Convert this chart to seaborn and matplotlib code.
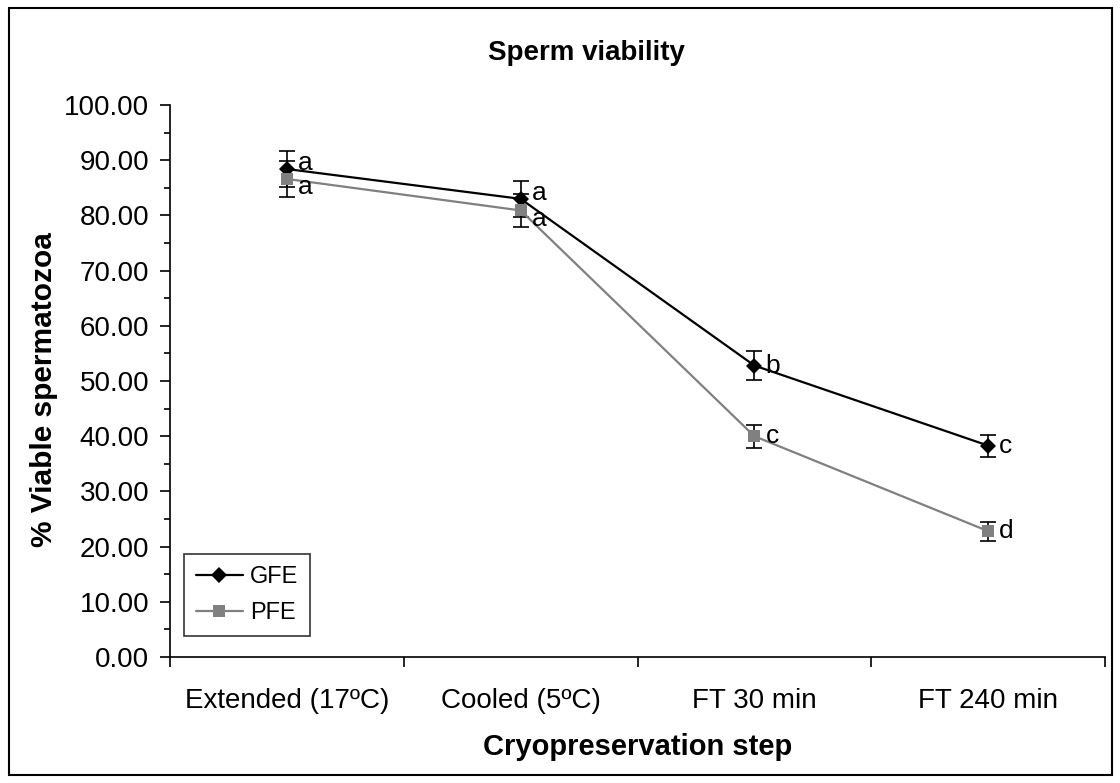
import matplotlib
matplotlib.use("Agg")
import matplotlib.pyplot as plt
import seaborn as sns
import pandas as pd
from matplotlib.patches import Rectangle
from matplotlib.ticker import MultipleLocator, FixedLocator, NullFormatter

# Data
steps = ["Extended (17ºC)", "Cooled (5ºC)", "FT 30 min", "FT 240 min"]
gfe_mean = [88.4, 83.0, 52.8, 38.3]
gfe_err = [3.2, 3.2, 2.6, 2.0]
pfe_mean = [86.6, 80.9, 40.0, 22.8]
pfe_err = [3.2, 3.0, 2.1, 1.7]
gfe_letters = ["a", "a", "b", "c"]
pfe_letters = ["a", "a", "c", "d"]

sns.set_theme(style="white")
plt.rcParams["font.family"] = ["Liberation Sans", "DejaVu Sans"]
plt.rcParams["text.color"] = "black"
plt.rcParams["axes.labelcolor"] = "black"
plt.rcParams["xtick.color"] = "black"
plt.rcParams["ytick.color"] = "black"

df = pd.DataFrame({
    "step": steps * 2,
    "value": gfe_mean + pfe_mean,
    "group": ["GFE"] * 4 + ["PFE"] * 4,
})
df["pos"] = list(range(4)) * 2

fig = plt.figure(figsize=(11.2, 7.83), dpi=100)
ax = fig.add_axes([0.1518, 0.1609, 0.8348, 0.705])

colors = {"GFE": "black", "PFE": "#808080"}
markers = {"GFE": "D", "PFE": "s"}

for grp, means, errs in [("GFE", gfe_mean, gfe_err), ("PFE", pfe_mean, pfe_err)]:
    sub = df[df.group == grp]
    sns.lineplot(data=sub, x="pos", y="value", ax=ax, color=colors[grp],
                 marker=markers[grp], markersize=8, markeredgewidth=0,
                 linewidth=1.6, label=grp, zorder=3)
    ax.errorbar(sub["pos"], means, yerr=errs, fmt="none", ecolor="black",
                elinewidth=1.2, capsize=6, capthick=1.2, zorder=2)

# significance letters
for i in range(4):
    dy_g = 4 if i < 2 else 0
    dy_p = -6 if i < 2 else 0
    ax.annotate(gfe_letters[i], (i, gfe_mean[i]), xytext=(8, dy_g),
                textcoords="offset points", ha="left", va="center", fontsize=19)
    ax.annotate(pfe_letters[i], (i, pfe_mean[i]), xytext=(8, dy_p),
                textcoords="offset points", ha="left", va="center", fontsize=19)

ax.set_xlim(-0.5, 3.5)
ax.set_ylim(0, 100)
ax.yaxis.set_major_locator(MultipleLocator(10))
ax.yaxis.set_minor_locator(MultipleLocator(5))
ax.set_yticklabels([f"{v:.2f}" for v in ax.get_yticks()])
ax.xaxis.set_major_locator(FixedLocator([-0.5, 0.5, 1.5, 2.5, 3.5]))
ax.xaxis.set_major_formatter(NullFormatter())
ax.xaxis.set_minor_locator(FixedLocator([0, 1, 2, 3]))
ax.set_xticklabels(steps, minor=True)

ax.tick_params(axis="y", which="major", direction="out", length=7, width=1.2,
               left=True, labelsize=20, pad=8)
ax.tick_params(axis="y", which="minor", direction="out", length=4, width=1.2, left=True)
ax.tick_params(axis="x", which="major", direction="out", length=7, width=1.2, bottom=True)
ax.tick_params(axis="x", which="minor", length=0, labelsize=20, pad=22)

for s in ["top", "right"]:
    ax.spines[s].set_visible(False)
for s in ["left", "bottom"]:
    ax.spines[s].set_color("black")
    ax.spines[s].set_linewidth(1.2)

ax.set_xlabel("Cryopreservation step", fontsize=21, fontweight="bold", labelpad=14)
ax.set_ylabel("% Viable spermatozoa", fontsize=21.5, fontweight="bold")
ax.yaxis.set_label_coords(-0.12, 0.484)
fig.text(0.524, 0.932, "Sperm viability", ha="center", va="center",
         fontsize=20, fontweight="bold")

leg = ax.legend(loc="lower left", bbox_to_anchor=(0.015, 0.038), borderaxespad=0,
                fontsize=17, frameon=True, fancybox=False, handlelength=2.0,
                borderpad=0.5, labelspacing=0.6, handletextpad=0.3)
leg.get_frame().set_edgecolor("black")
leg.get_frame().set_linewidth(1.2)

fig.patches.append(Rectangle((0.008, 0.01), 0.985, 0.98, transform=fig.transFigure,
                             fill=False, edgecolor="black", linewidth=1.5))

fig.savefig("out.png", dpi=100, facecolor="white")
